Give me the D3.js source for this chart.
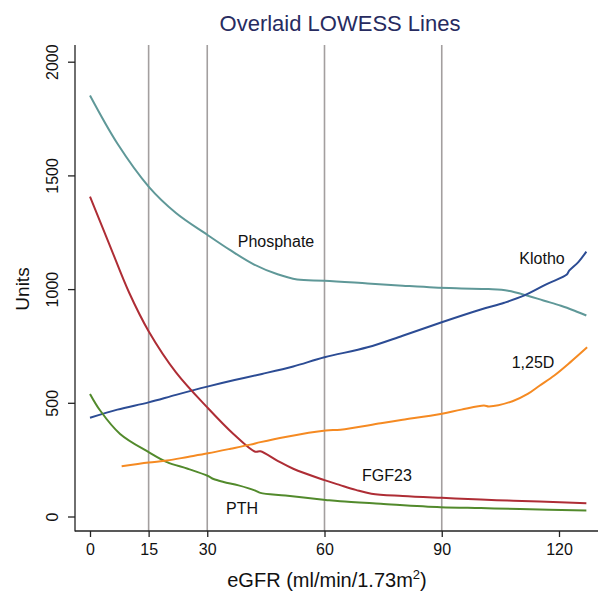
<!DOCTYPE html>
<html>
<head>
<meta charset="utf-8">
<script src="https://cdn.jsdelivr.net/npm/d3@7"></script>
<style>
  body { margin: 0; background: #fff; }
  text { font-family: "Liberation Sans", Arial, Helvetica, sans-serif; }
</style>
</head>
<body>
<svg width="598" height="592"></svg>
<script>
// data
var phosphateX = [0, 7, 15, 22, 30, 36, 42, 48, 53, 60, 71, 80, 88, 95, 102, 107, 112, 116, 120.5, 124, 127];
var phosphateY = [1851, 1640, 1451, 1335, 1239, 1170, 1108, 1065, 1042, 1037, 1025, 1015, 1007, 1003, 1000, 993, 971, 950, 927, 905, 884];

var klothoX = [0, 7, 15, 22, 30, 37, 44, 52, 60, 71, 80, 90, 100, 106, 111, 117, 122, 122.6, 125, 127];
var klothoY = [434, 470, 502, 535, 571, 600, 627, 660, 700, 744, 795, 854, 910, 940, 971, 1023, 1064, 1081, 1120, 1165];

var fgf23X = [0, 5, 10, 15, 22, 30, 36.7, 42.3, 43.6, 48, 52, 60, 64, 68, 72, 80, 90, 100, 107, 115, 127];
var fgf23Y = [1407, 1195, 985, 815, 634, 480, 363, 285, 287, 245, 210, 160, 138, 117, 100, 90, 82, 75, 70, 66, 58];

var pthX = [0, 2.6, 7.7, 15, 19.7, 25, 30.2, 31.6, 34.2, 38, 42.3, 43.6, 50, 60.3, 64, 74.4, 89.7, 100, 110, 127];
var pthY = [539, 466, 363, 283, 239, 210, 178, 165, 152, 137, 114, 104, 92, 73, 67, 56, 41, 37, 33, 26];

var d125X = [8.1, 15, 19.7, 25, 30.2, 36, 41, 43.6, 50, 60.3, 64.1, 74.4, 80, 89.7, 95, 100.8, 102.1, 108.1, 112, 115, 118.8, 123, 127.2];
var d125Y = [221, 237, 246, 262, 278, 298, 316, 327, 350, 378, 382, 410, 425, 451, 470, 488, 484, 507, 539, 575, 620, 680, 744];

var xTicks = [0, 15, 30, 60, 90, 120];
var yTicks = [0, 500, 1000, 1500, 2000];
var gridLines = [15, 30, 60, 90];

var series = [
  { name: "Phosphate", xs: phosphateX, ys: phosphateY, color: "#5f9898", lx: 276, ly: 247 },
  { name: "Klotho", xs: klothoX, ys: klothoY, color: "#2c4c94", lx: 542, ly: 264 },
  { name: "FGF23", xs: fgf23X, ys: fgf23Y, color: "#ae2d35", lx: 387, ly: 481 },
  { name: "PTH", xs: pthX, ys: pthY, color: "#528a2c", lx: 242, ly: 514 },
  { name: "1,25D", xs: d125X, ys: d125Y, color: "#f58a22", lx: 533, ly: 368 }
];

var svg = d3.select("svg");

var xScale = d3.scaleLinear()
  .domain([0, 120])
  .range([90, 559]);

var yScale = d3.scaleLinear()
  .domain([0, 2000])
  .range([516.5, 61.7]);

var axisLeftX = 75, axisBottomY = 531, plotTop = 45, plotRight = 598;

// vertical reference lines
svg.selectAll(".grid")
  .data(gridLines)
  .enter()
  .append("line")
  .attr("x1", function (d) { return xScale(d); })
  .attr("x2", function (d) { return xScale(d); })
  .attr("y1", plotTop)
  .attr("y2", axisBottomY)
  .attr("stroke", "#a39f9f")
  .attr("stroke-width", 1.6);

// lines
var line = d3.line()
  .x(function (d) { return xScale(d[0]); })
  .y(function (d) { return yScale(d[1]); })
  .curve(d3.curveCatmullRom.alpha(0.5));

svg.selectAll(".series")
  .data(series)
  .enter()
  .append("path")
  .attr("fill", "none")
  .attr("stroke", function (d) { return d.color; })
  .attr("stroke-width", 2)
  .attr("d", function (d) {
    return line(d.xs.map(function (x, i) { return [x, d.ys[i]]; }));
  });

svg.selectAll(".lab")
  .data(series)
  .enter()
  .append("text")
  .attr("x", function (d) { return d.lx; })
  .attr("y", function (d) { return d.ly; })
  .attr("text-anchor", "middle")
  .attr("font-size", 16)
  .attr("fill", "#111")
  .text(function (d) { return d.name; });

// axes
var y_axis = d3.axisLeft(yScale)
  .tickValues(yTicks)
  .tickFormat(d3.format("d"))
  .tickSize(7)
  .tickSizeOuter(0);

var gy = svg.append("g")
  .attr("transform", "translate(" + axisLeftX + ",0)")
  .call(y_axis);
gy.select(".domain").remove();
gy.selectAll("line").attr("stroke", "#222").attr("stroke-width", 1.3);
gy.selectAll("text")
  .attr("transform", "rotate(-90)")
  .attr("x", 0)
  .attr("y", -17.5)
  .attr("dy", 0)
  .attr("text-anchor", "middle")
  .attr("font-size", 16)
  .attr("font-family", "Liberation Sans, Arial, sans-serif")
  .attr("fill", "#111");

var x_axis = d3.axisBottom(xScale)
  .tickValues(xTicks)
  .tickFormat(d3.format("d"))
  .tickSize(6)
  .tickSizeOuter(0);

var gx = svg.append("g")
  .attr("transform", "translate(0," + axisBottomY + ")")
  .call(x_axis);
gx.select(".domain").remove();
gx.selectAll("line").attr("stroke", "#222").attr("stroke-width", 1.3);
gx.selectAll("text")
  .attr("y", 24)
  .attr("dy", 0)
  .attr("font-size", 16)
  .attr("font-family", "Liberation Sans, Arial, sans-serif")
  .attr("fill", "#111");

svg.append("line")
  .attr("x1", axisLeftX).attr("x2", axisLeftX)
  .attr("y1", plotTop).attr("y2", axisBottomY + 0.6)
  .attr("stroke", "#222").attr("stroke-width", 1.3);

svg.append("line")
  .attr("x1", axisLeftX).attr("x2", plotRight)
  .attr("y1", axisBottomY).attr("y2", axisBottomY)
  .attr("stroke", "#222").attr("stroke-width", 1.3);

// titles
svg.append("text")
  .attr("x", 340)
  .attr("y", 31)
  .attr("text-anchor", "middle")
  .attr("font-size", 22)
  .attr("fill", "#272b60")
  .text("Overlaid LOWESS Lines");

var xl = svg.append("text")
  .attr("x", 327)
  .attr("y", 587)
  .attr("text-anchor", "middle")
  .attr("font-size", 20)
  .attr("fill", "#111");
xl.append("tspan").text("eGFR (ml/min/1.73m");
xl.append("tspan").attr("font-size", 13).attr("dy", -8).text("2");
xl.append("tspan").attr("dy", 8).text(")");

svg.append("text")
  .attr("transform", "translate(29,289) rotate(-90)")
  .attr("text-anchor", "middle")
  .attr("font-size", 19)
  .attr("fill", "#111")
  .text("Units");
</script>
</body>
</html>
